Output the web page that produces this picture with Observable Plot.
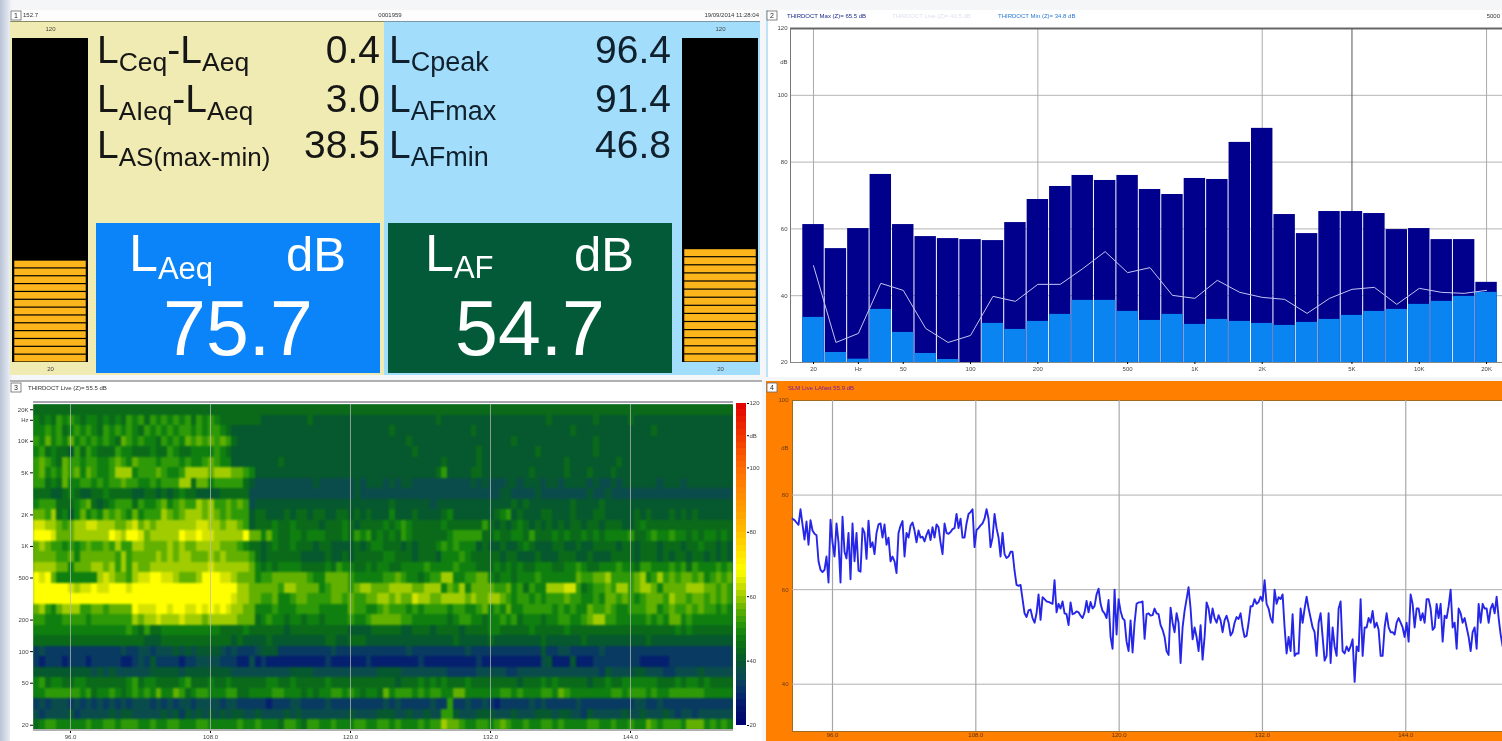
<!DOCTYPE html>
<html><head><meta charset="utf-8">
<script src="https://cdn.jsdelivr.net/npm/d3@7"></script>
<script src="https://cdn.jsdelivr.net/npm/@observablehq/plot@0.6"></script>
<style>
html,body{margin:0;padding:0;width:1502px;height:741px;overflow:hidden;background:#f4f6f8}
#stage{position:absolute;left:0;top:0;width:1502px;height:741px;overflow:hidden;filter:blur(.55px);background:linear-gradient(90deg,#b9c4d6 0,#dfe4ee 8px,#f4f6f8 12px)}
#stage>*{position:absolute}
svg{display:block}
</style></head><body><div id="stage"></div>
<script>
// ---------- DATA ----------
const bands=["20","25","31.5","40","50","63","80","100","125","160","200","250","315","400","500","630","800","1K","1.25K","1.6K","2K","2.5K","3.15K","4K","5K","6.3K","8K","10K","12.5K","16K","20K"];
const tickBands=["20","31.5","50","100","200","500","1K","2K","5K","10K","20K"];
const gridBands=["20","200","2K","5K","20K"];
const maxDb=[61.3,54.1,60.1,76.3,61.3,57.7,57.1,56.8,56.5,61.9,68.8,72.7,76.0,74.5,76.0,71.8,70.3,75.1,74.8,85.9,90.1,64.3,58.6,65.2,65.2,64.6,59.8,60.1,56.8,56.8,44.0];
const minDb=[33.5,23,21,35.9,29,22.7,20.9,20,31.7,29.9,32.3,34.4,38.6,38.6,35.3,32.6,34.4,31.4,32.9,32.3,31.7,31.1,32,32.9,34.1,35.3,35.9,37.4,38.3,39.8,41];
const liveDb=[49,26,28.7,43.7,41.6,30.2,26,28.1,39.8,38.3,43.4,43.4,48.1,53.2,46.9,48.4,40.1,39.2,44.6,41,39.5,38.9,34.7,39.2,41.9,42.5,37.4,42.2,41,40.7,41.6];
const dbTicksA=[120,110,100,80,60,40,20];
const timeTicks=[96,108,120,132,144];
const leftSegs=[20,22.42,24.84,27.26,29.68,32.1,34.52,36.94,39.36,41.78,44.2,46.62,49.04];
const rightSegs=[20,22.5,25,27.5,30,32.5,35,37.5,40,42.5,45,47.5,50,52.5];
// spectrogram: one string per band, top (20K) to bottom (20 Hz); one character per half time unit
const levelCodes="0123456789a";
const levelDb=[28,32,36,40,44,48,52,56,60,64,68];
const spectro=[
"4444444444 4444444444 44444444 4444444444 4444444444 4444444444 4444444444 4444444444 4444444444 4444444444 4444444444 4444444444 44",
"5454656545 5454546564 65656564 6565444444 4333333334 3333333333 3333333333 3433333333 3333333333 4333333343 3333433333 3333333333 33",
"5565645656 5465656546 56565665 6566543333 3333333333 3333333333 3334333333 3333333433 3333333333 3333433333 3333333343 3333333333 33",
"6575657565 6565476565 54656576 7676764333 3333333333 3333333333 3333334333 3333333333 3333433333 3333333343 3333333333 3333333333 33",
"5645443646 5444655444 54465445 5556543333 3333333333 3333333333 3333333433 3333333343 3333333343 3333333343 3333333333 3333333333 33",
"6765476656 6556765766 65666565 5676553333 3333433333 3333333333 3333333333 3343333343 3333333333 3334333333 3343333333 3333333333 33",
"6756576757 6556888566 67655688 8878887765 3333333333 3333333333 3333333333 3463333443 3333333433 3334333433 3433333333 3333333333 33",
"6645475566 5656676655 65666884 7756666643 2222222222 3222222323 3323233222 2222222323 2223323332 3323333232 2323333332 3332333333 33",
"4443345433 4454444334 43434544 3333444442 2222222222 2222222322 2222222222 2222222222 2233222232 2222222322 3222222222 2222222222 22",
"5666444567 4345666465 56756766 8786676762 3333333333 3333333333 3334333333 2333333333 3333434333 3333433334 3333333333 3333333333 33",
"7768453575 6576765756 66876788 8787676663 4433343443 4433443434 3335333433 3345333333 3456343334 4333433344 3333343433 3434343333 33",
"9988767889 9888778978 78888888 9988788763 4445445444 4344454344 4454565444 4454444446 4343454343 4343443443 4443345444 4444444444 44",
"aaa9777888 888a98aa97 88888a99 a9988888a7 7575445545 5544454656 4545465444 4445666664 4544554644 4545445454 5555644565 5655454554 54",
"7876656567 6676866887 77787877 8888777654 4345445444 3443333434 5544434344 4565655534 3343345433 3443343344 4434434443 4443445443 43",
"7777667577 7777686777 78787887 7787877776 4344444433 3343343444 4455444344 4355565444 4434433343 3344433433 3444434443 4344344343 43",
"8888775777 8878686877 88888888 8898888887 5454555544 4454655445 4554455556 5555655544 4545454455 5445565445 5565546655 5656465556 56",
"a9a7555555 5898776899 aa998777 8aaa998777 5667777776 5577776555 5566765545 6688556677 5455455565 5555576677 8666678568 6767767567 67",
"aaaaaa9899 a99aaa9aaa aaaaaaaa aaaaaaa887 7777688777 7567776788 7778888778 8857685777 7667564655 8889964566 7688678875 7777888776 76",
"aaaaaaaaaa aaaaaaaaaa aaaaaaaa aaaaaa9887 7667556776 6667767667 7887877988 7788887877 8876566565 6667665565 7767656777 6877677676 76",
"7865788866 7767777a99 9aa9aa99 a9a9a98877 5556555666 6555557665 5676665656 6665665567 5657556666 6565655766 7655666775 6766767665 65",
"6655566665 6666666878 89888988 8788888777 4565545545 5455556556 7777766555 5554566554 5565645554 5566556788 6655555656 5775655555 55",
"5555555555 5555556546 44555555 5555444454 4444434444 4444443333 4444433444 3444434444 5544444544 4445444444 4444444444 4454544444 44",
"4444444444 4444444443 33444444 4444443433 3343333333 3344334443 3333333333 3333433333 4333333334 3333334333 3333333433 3333333333 33",
"1211111111 1111121122 12223232 3333212111 2333111111 1112111111 1111112111 1111112111 1111111113 1122111112 1111111111 1111111111 11",
"1011101110 1111100121 31111011 2222111002 0100000000 0010000001 0000000010 0000000010 0000000002 3000300011 1111110000 0111111111 11",
"3333333333 2323222222 33333233 3333332222 2222223333 2222222222 2333322222 2221111122 2221122222 2222222221 3222233222 1122223222 22",
"5645544554 4444445645 54444564 4454454444 4455445444 4454444444 4444344454 5454445444 4444434445 4544444344 5445555554 4454554544 44",
"5566666656 4556545656 57557645 6655566445 5556655545 4556656545 5475666565 6655775555 5566565556 6576555555 5665666565 5666666555 55",
"1212221212 1212121222 12121221 2222122111 1101112211 1121111111 1121211111 2116112112 1011111212 1111121111 1111122112 1111111111 11",
"2122223122 2223233222 22323132 3232323322 3222232322 2222223222 2333223223 2266322233 3222322233 3233221322 2223223222 3212212222 22",
"4566555556 5566566655 65566555 6655555655 6555466546 6556555665 5665655565 6687765566 5676556556 6565555665 5655655765 6665777565 65"];
const specStart=92.83, specStep=0.5;
const colorDomain=[20,28,32,36,40,44,48,52,56,60,64,68,85,100,120];
const colorRange=["#000070","#04206e","#083a62","#0a4c4c","#06582e","#0a6a1a","#0f800f","#2f9a08","#62b000","#a0cc00","#d4e400","#ffff00","#ffa500","#ff6a00","#e00000"];
const barLevels=[20,22,24,26,28,30,32,34,36,38,40,42,44,46,48,50,52,54,56,58,60,62,64,66,68,70,72,74,76,78,80,82,84,86,88,90,92,94,96,98,100,102,104,106,108,110,112,114,116,118];
// SLM trace
const slmStart=92.65, slmStep=0.1675;
const slmDb=[75,74.7,74.2,73.7,77,73.8,70.6,74.4,69.5,74.7,72.5,71.8,71.5,66,64.2,63.7,64.2,67,61.5,74.8,70,67,74,70,61.5,75.4,68,66.6,72,62.2,74,66,72,64,63.8,73,72,66.5,74.6,69,70,67.5,72,73.8,74,71,73.8,69.5,71,66,67,66,63.5,72,73.5,74.5,67,72,71,73.5,74.2,72.5,70,72.5,71,71.2,70.2,71.6,72.6,70.5,73.2,71,73.8,73.2,70,67.5,74,72,71.8,72.2,72.8,73,76,73,75,71,71,74,76,76.4,77,69,72.6,73,73.6,74,75,77,75,69,71,76,73,71,67,72,67.5,66.7,67,68,68,64,61,60.8,61,58,55,54.2,55.6,55.8,54,53,55,59,53.6,58.4,58,57.5,57.4,57.2,57,62,55.2,57,56,57.5,55,54.8,52.5,57.3,54.8,55,55.4,55.2,54.5,54,55.2,57.6,55.2,57.4,56,56.5,59,60.2,57,55.5,55,54,57.8,50,47.5,60,50.5,58,55.5,54,53.5,49,47,53.5,46.7,53,57,57.3,57.3,
57.5,49.6,54.8,55,54.5,54.6,56,55,54.8,52.5,51.5,50,47,46.2,56.2,53,51,55,53,44.5,52,55.5,58,60.5,56,49.5,52,50,47,52.5,45.2,50,57.3,56,53,56,54,53,54.6,53.5,51,53.5,54.5,53,50.3,51,53,54.2,53.8,55,52,50,50.2,53,56.5,56.5,58,57,57.4,58.5,57.6,62,57,56,54,53,60,57,58.4,58,59,52,46.5,50,47,54.8,46,46.5,46.5,56,53,56,58.5,56,54,52,51,46,53,55,50,45,46,55,44.5,52,48,46,56,57.5,47,46.5,48,47,48,49.5,40.5,48,47,58,46,52,52,54,53,55.5,52,53,51.5,46,46,52,55,52,51,51,50.5,53,54,53,52,50,53,49,59,57,52,56,56,53.5,55,53,58,58,56,51.5,52,57,54,57,49,54.5,54,56.5,60,52,53,47.5,56,55,53,54,52,50,47,51,52,47.5,57,53,57,56,56,53,56,57,55,58.5,54,50.5,48,52,56];
const slmYTicks=[100,90,80,60,40];
// ---------- PAGE ----------
const stage=document.getElementById("stage");
function place(node,x,y){node.style.left=x+"px";node.style.top=y+"px";stage.appendChild(node);return node}
function box(x,y,w,h,c,extra){const d=document.createElement("div");d.style.cssText=`width:${w}px;height:${h}px;background:${c};${extra||""}`;return place(d,x,y)}
const font="'Liberation Sans',Arial,sans-serif";
const tinyInk="#444";
const dbFmt=d=>d===110||d===90?"dB":String(d);

// panel plates
box(10,10,750,11,"#fdfdfd");
box(10,21,374,354,"#f0ebb2","border-top:1px solid #8a8a60;box-sizing:border-box");
box(384,21,376,354,"#a2ddfb","border-top:1px solid #7a98a8;box-sizing:border-box");
box(96,223,284,150,"#0a84f8");
box(388,223,284,150,"#035a38");
box(766,10,736,367,"#ffffff","border-left:2px solid #bfe3f5;box-sizing:border-box");
box(10,380,752,361,"#ffffff","border-top:2px solid #b0b0b0;box-sizing:border-box");

// level meters
function meter(x,segs,step){
  const p=Plot.plot({width:80,height:356,marginTop:17,marginBottom:15,marginLeft:2,marginRight:2,
    x:{domain:[0,1],axis:null},y:{domain:[20,120],axis:null},
    style:{background:"transparent",fontFamily:font},
    marks:[
      Plot.rect([0],{x1:()=>0,x2:()=>1,y1:()=>20,y2:()=>120,fill:"#000"}),
      Plot.rect(segs,{x1:()=>0.03,x2:()=>0.97,y1:d=>d,y2:d=>d+step,fill:"#fcb61c",insetTop:0.6,insetBottom:0.6}),
      Plot.text(["120"],{x:()=>0.5,y:()=>120,text:d=>d,dy:-9,fontSize:6,fill:tinyInk}),
      Plot.text(["20"],{x:()=>0.5,y:()=>20,text:d=>d,dy:7,fontSize:6,fill:tinyInk})
    ]});
  place(p,x,21);
}
meter(10,leftSegs,2.42);
meter(680,rightSegs,2.5);

// panel 2: spectrum
const specRows=bands.map((b,i)=>({i,b,max:maxDb[i],min:minDb[i],live:liveDb[i]}));
place(Plot.plot({width:736,height:357,marginLeft:24,marginRight:0,marginTop:8,marginBottom:15,
  x:{domain:[-1.025,30.71],axis:null},y:{domain:[20,120],axis:null},
  style:{background:"transparent",fontFamily:font,fontSize:"6px"},
  marks:[
    Plot.ruleY([100,80,60,40],{stroke:"#b4b4b4"}),
    Plot.ruleX(gridBands.map(b=>bands.indexOf(b)),{stroke:d=>d===24?"#555":"#aaa"}),
    Plot.rect(specRows,{x1:d=>d.i-0.5,x2:d=>d.i+0.5,y1:()=>20,y2:"max",fill:"#00008c",insetLeft:0.5,insetRight:0.5}),
    Plot.rect(specRows,{x1:d=>d.i-0.5,x2:d=>d.i+0.5,y1:()=>20,y2:"min",fill:"#0a84f0",insetLeft:0.5,insetRight:0.5}),
    Plot.line(specRows,{x:"i",y:"live",stroke:"#c4c4f2",strokeWidth:1}),
    Plot.ruleY([120],{stroke:"#666",strokeWidth:2}),
    Plot.ruleX([-1.025],{stroke:"#777"}),
    Plot.ruleY([20],{stroke:"#888"}),
    Plot.axisY({label:null,ticks:dbTicksA,tickFormat:d=>d===110?"dB":String(d),tickSize:0,tickPadding:3,fontSize:6,fill:tinyInk}),
    Plot.axisX({label:null,ticks:tickBands.map(b=>bands.indexOf(b)),tickFormat:i=>bands[i]==="31.5"?"Hz":bands[i],tickSize:2,tickPadding:2,fontSize:6,fill:tinyInk})
  ]}),766,20);

// panel 3: spectrogram
const cells=[];
spectro.forEach((row,r)=>{
  const chars=row.replace(/ /g,"");
  for(let c=0;c<chars.length;c++) cells.push({t:specStart+c*specStep,r:30-r,v:levelDb[levelCodes.indexOf(chars[c])]});
});
const colorOpt={type:"linear",domain:colorDomain,range:colorRange,interpolate:"rgb"};
const heat=place(Plot.plot({width:733,height:347,marginLeft:33,marginRight:0,marginTop:10,marginBottom:11,
  x:{domain:[specStart,specStart+60],axis:null},y:{domain:[-0.5,30.5],axis:null},color:colorOpt,
  style:{background:"transparent",fontFamily:font},
  marks:[
    Plot.frame({fill:"#0a6a1a",stroke:"none"}),
    Plot.rect(cells,{x1:"t",x2:d=>d.t+specStep,y1:d=>d.r-0.5,y2:d=>d.r+0.5,fill:"v",shapeRendering:"crispEdges",clip:true}),
    Plot.ruleX(timeTicks,{stroke:"#b8b8b8",strokeOpacity:0.75}),
    Plot.axisX({label:null,ticks:timeTicks,tickFormat:d=>d.toFixed(1),tickSize:3,tickPadding:1,fontSize:6,fill:tinyInk}),
    Plot.axisY({label:null,ticks:tickBands.map(b=>b==="31.5"?29:bands.indexOf(b)),tickFormat:i=>i===29?"Hz":bands[i],tickSize:3,tickPadding:2,fontSize:6,fill:tinyInk})
  ]}),0,394);
heat.querySelectorAll('g[aria-label="rect"]').forEach(g=>g.style.filter="blur(1.3px)");
box(33,401,700,2,"#a8a4b0");
box(33,729,700,2,"#b0b0b0");

// colour bar
place(Plot.plot({width:30,height:338,marginLeft:3,marginRight:17,marginTop:8,marginBottom:8,
  x:{domain:[0,1],axis:null},y:{domain:[20,120],axis:null},color:colorOpt,
  style:{background:"transparent",fontFamily:font},
  marks:[
    Plot.rect(barLevels,{x1:()=>0,x2:()=>1,y1:d=>d,y2:d=>d+2,fill:d=>d+1,shapeRendering:"crispEdges"}),
    Plot.axisY({label:null,anchor:"right",ticks:dbTicksA,tickFormat:d=>d===110?"dB":String(d),tickSize:2,tickPadding:1,fontSize:6,fill:tinyInk})
  ]}),733,395);

// panel 4: SLM trace
const slmRows=slmDb.map((v,i)=>({t:slmStart+i*slmStep,v}));
place(Plot.plot({width:736,height:360,marginLeft:26,marginRight:0,marginTop:19,marginBottom:10,
  x:{domain:[92.65,152.1],axis:null},y:{domain:[30,100],axis:null},
  style:{background:"#ff8000",fontFamily:font},
  marks:[
    Plot.frame({fill:"#fff",stroke:"#a06a20"}),
    Plot.ruleY([80,60,40],{stroke:"#b0b0b0"}),
    Plot.ruleX(timeTicks,{stroke:"#a8a8a8",strokeWidth:1.2}),
    Plot.line(slmRows,{x:"t",y:"v",stroke:"#2626e8",strokeWidth:1.9}),
    Plot.axisY({label:null,ticks:slmYTicks,tickFormat:dbFmt,tickSize:0,tickPadding:4,fontSize:6,fill:"#6a3a10"}),
    Plot.axisX({label:null,ticks:timeTicks,tickFormat:d=>d.toFixed(1),tickSize:0,tickPadding:1,fontSize:6,fill:"#5a3010"})
  ]}),766,381);

// ---------- TEXT OVERLAY ----------
const ov=d3.select(stage).append("svg").attr("width",1502).attr("height",741).style("left","0").style("top","0").style("font-family",font);
function T(x,y,str,size,fill,anchor){return ov.append("text").attr("x",x).attr("y",y).attr("font-size",size).attr("fill",fill||"#111").attr("text-anchor",anchor||"start").text(str)}
function L(x,y,parts,big,small,fill,drop){
  const t=ov.append("text").attr("x",x).attr("y",y).attr("fill",fill);
  parts.forEach(([s,isSub])=>{
    t.append("tspan").attr("font-size",isSub?small:big).attr("baseline-shift",isSub?-drop:0).text(s);
  });
  return t;
}
const ink="#161616";
L(97,63,[["L",0],["Ceq",1],["-L",0],["Aeq",1]],39,26.5,ink,8);
L(97,112,[["L",0],["AIeq",1],["-L",0],["Aeq",1]],39,26,ink,8);
L(97,158,[["L",0],["AS(max-min)",1]],39,26,ink,8);
T(380,63,"0.4",39,ink,"end");T(380,112,"3.0",39,ink,"end");T(380,158,"38.5",39,ink,"end");
L(389,63,[["L",0],["Cpeak",1]],39,27,"#10202c",8);
L(389,112,[["L",0],["AFmax",1]],39,27,"#10202c",8);
L(389,158,[["L",0],["AFmin",1]],39,27,"#10202c",8);
T(671,63,"96.4",39,"#10202c","end");T(671,112,"91.4",39,"#10202c","end");T(671,158,"46.8",39,"#10202c","end");
L(129,271,[["L",0],["Aeq",1]],52,31,"#fff",8);
T(346,271,"dB",49,"#fff","end");
T(238,355,"75.7",77,"#fff","middle");
L(425,271,[["L",0],["AF",1]],52,31,"#fff",7);
T(634,271,"dB",49,"#fff","end");
T(530,355,"54.7",77,"#fff","middle");
// headers
T(23,17,"152.7",6,"#333");T(390,17,"0001959",6,"#333","middle");T(759,17,"19/09/2014 11:28:04",6,"#333","end");
T(787,18,"THIRDOCT Max (Z)= 65.5 dB",6,"#1a2a8a");
T(892,18,"THIRDOCT Live (Z)= 40.5 dB",6,"#dfe2ee");
T(998,18,"THIRDOCT Min (Z)= 34.8 dB",6,"#2a7ad8");
T(1500,18,"5000",6,"#333","end");
T(28,390,"THIRDOCT Live (Z)= 55.5 dB",6,"#333");
T(788,390,"SLM Live LAfast 55.9 dB",6,"#7a1aa0");
// panel number tabs
[[10,"1"],[766,"2"],[10,"3"],[766,"4"]].forEach(([x,s],i)=>{
  const y=i<2?11:383;
  ov.append("rect").attr("x",x+1).attr("y",y).attr("width",10).attr("height",9).attr("fill","#fff").attr("stroke","#666").attr("stroke-width",0.8);
  T(x+6,y+7,s,7,"#222","middle");
});
</script></body></html>
